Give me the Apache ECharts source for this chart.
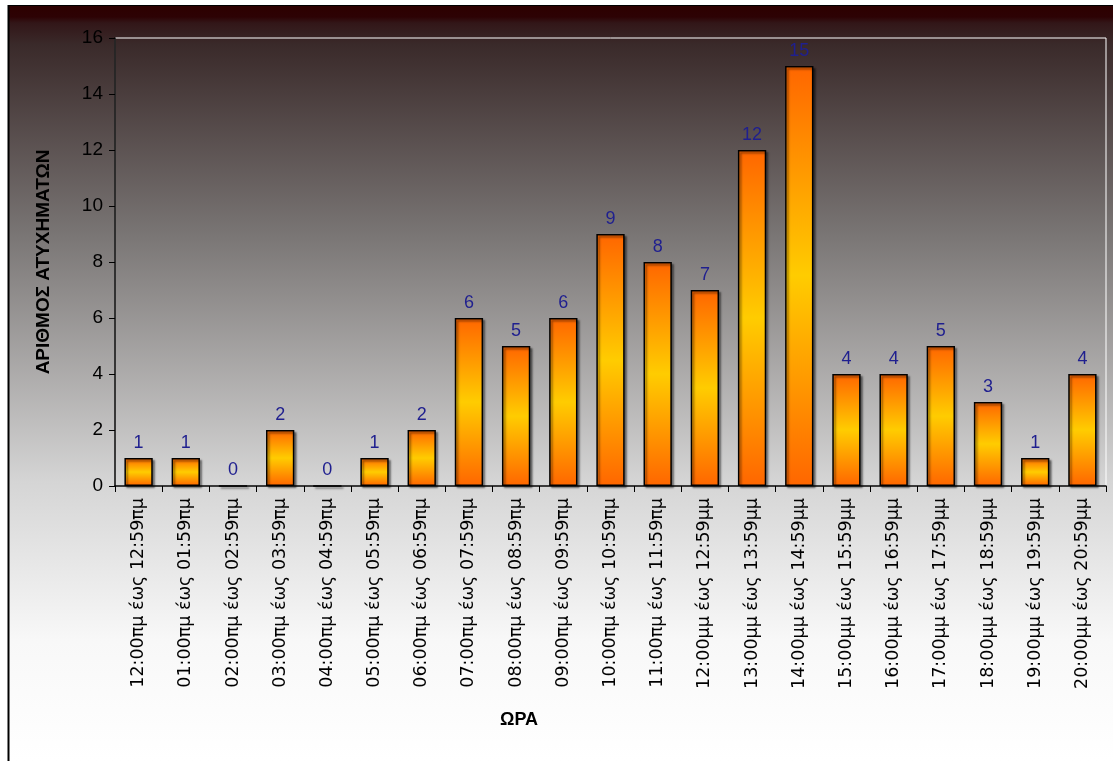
<!DOCTYPE html>
<html><head><meta charset="utf-8">
<script src="https://cdn.jsdelivr.net/npm/echarts@6/dist/echarts.min.js"></script>
<style>html,body{margin:0;padding:0;background:#fff}#c{width:1113px;height:761px}</style>
</head><body><div id="c"></div>
<script>
const categories = ["12:00πμ έως 12:59πμ","01:00πμ έως 01:59πμ","02:00πμ έως 02:59πμ","03:00πμ έως 03:59πμ","04:00πμ έως 04:59πμ","05:00πμ έως 05:59πμ","06:00πμ έως 06:59πμ","07:00πμ έως 07:59πμ","08:00πμ έως 08:59πμ","09:00πμ έως 09:59πμ","10:00πμ έως 10:59πμ","11:00πμ έως 11:59πμ","12:00μμ έως 12:59μμ","13:00μμ έως 13:59μμ","14:00μμ έως 14:59μμ","15:00μμ έως 15:59μμ","16:00μμ έως 16:59μμ","17:00μμ έως 17:59μμ","18:00μμ έως 18:59μμ","19:00μμ έως 19:59μμ","20:00μμ έως 20:59μμ"];
const accidents = [1,1,0,2,0,1,2,6,5,6,9,8,7,12,15,4,4,5,3,1,4];
const yTicks = {min:0, max:16, interval:2};
const yName = "ΑΡΙΘΜΟΣ ΑΤΥΧΗΜΑΤΩΝ";
const xName = "ΩΡΑ";

const chart = echarts.init(document.getElementById('c'), null, {renderer:'canvas'});
const H = 761;
const bgGrad = new echarts.graphic.LinearGradient(0,0,0,1,[
  {offset:0, color:'#2d0000'},
  {offset:12/H, color:'#2d0204'},
  {offset:18/H, color:'#321618'},
  {offset:40/H, color:'#3a2a2a'},
  {offset:230/H, color:'#797574'},
  {offset:480/H, color:'#d5d5d5'},
  {offset:640/H, color:'#f8f8f8'},
  {offset:1, color:'#ffffff'}
]);
const barGrad = new echarts.graphic.LinearGradient(0,0,0,1,[
  {offset:0, color:'#ff6600'},
  {offset:0.5, color:'#ffcc00'},
  {offset:1, color:'#ff6600'}
]);
chart.setOption({
  animation:false,
  graphic:[
    {type:'rect', z:-10, silent:true, shape:{x:8,y:5,width:1105,height:756}, style:{fill:bgGrad}},
    {type:'line', z:-9, silent:true, shape:{x1:8.5,y1:5,x2:8.5,y2:761}, style:{stroke:'#000',lineWidth:2}},
    {type:'line', z:-9, silent:true, shape:{x1:8,y1:5.5,x2:1113,y2:5.5}, style:{stroke:'#000',lineWidth:1}},
    {type:'text', z:5, silent:true, x:519, y:720, style:{text:xName, fontFamily:'Liberation Sans', fontWeight:'bold', fontSize:18, fill:'#000', textAlign:'center', textVerticalAlign:'middle'}}
  ],
  grid:{left:115, right:7, top:38, bottom:275, show:true, borderColor:'#ffffff', borderWidth:1, backgroundColor:'transparent', containLabel:false},
  xAxis:{
    type:'category', data:categories,
    axisLine:{lineStyle:{color:'#000', width:1.5}},
    axisTick:{show:true, length:6, lineStyle:{color:'#000'}},
    axisLabel:{rotate:90, interval:0, margin:12, fontFamily:'DejaVu Sans', fontSize:17.5, color:'#000'}
  },
  yAxis:{
    type:'value', min:yTicks.min, max:yTicks.max, interval:yTicks.interval,
    name:yName, nameLocation:'middle', nameGap:62, nameRotate:90,
    nameTextStyle:{fontFamily:'Liberation Sans', fontWeight:'bold', fontSize:19, color:'#000'},
    axisLine:{show:true, lineStyle:{color:'#000', width:1.5}},
    axisTick:{show:true, length:6, lineStyle:{color:'#000'}},
    splitLine:{show:false},
    axisLabel:{margin:12, fontFamily:'Liberation Sans', fontSize:19, color:'#000'}
  },
  series:[{
    type:'bar', data:accidents, barWidth:'60%',
    itemStyle:{color:barGrad, borderColor:'#000', borderWidth:1.5, shadowColor:'rgba(0,0,0,0.45)', shadowBlur:2, shadowOffsetX:2, shadowOffsetY:2},
    label:{show:true, position:'top', distance:6, fontFamily:'Liberation Sans', fontSize:18, color:'#1f1f8f'}
  }]
});
</script></body></html>
